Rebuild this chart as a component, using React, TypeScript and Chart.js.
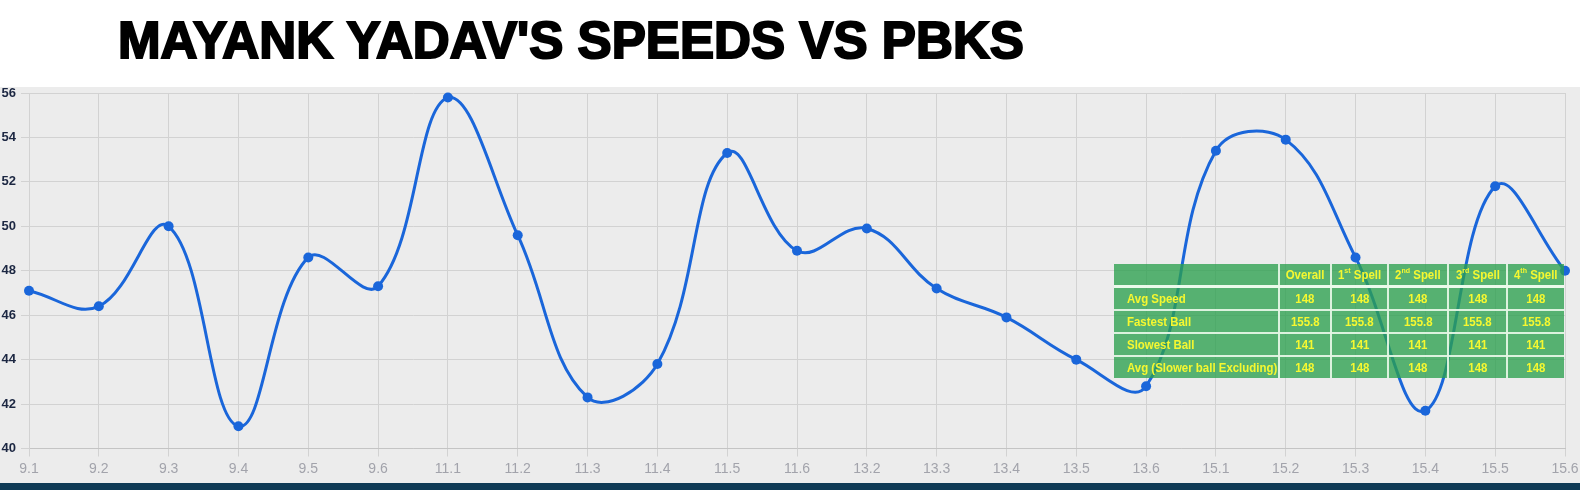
import React, { useEffect, useLayoutEffect, useRef, useState } from "react";
import { Chart, registerables } from "chart.js";

Chart.register(...registerables);

const TITLE = "MAYANK YADAV'S SPEEDS VS PBKS";

const overs = [
  "9.1", "9.2", "9.3", "9.4", "9.5", "9.6",
  "11.1", "11.2", "11.3", "11.4", "11.5", "11.6",
  "13.2", "13.3", "13.4", "13.5", "13.6",
  "15.1", "15.2", "15.3", "15.4", "15.5", "15.6",
];

const speeds = [
  147.1, 146.4, 150.0, 141.0, 148.6, 147.3,
  155.8, 149.6, 142.3, 143.8, 153.3, 148.9,
  149.9, 147.2, 145.9, 144.0, 142.8,
  153.4, 153.9, 148.6, 141.7, 151.8, 148.0,
];

const yMin = 140;
const yMax = 156;
const yStep = 2;

const tableHeaders = [
  { main: "Overall", sup: "", tail: "" },
  { main: "1", sup: "st", tail: " Spell" },
  { main: "2", sup: "nd", tail: " Spell" },
  { main: "3", sup: "rd", tail: " Spell" },
  { main: "4", sup: "th", tail: " Spell" },
];
const rowLabels = ["Avg Speed", "Fastest Ball", "Slowest Ball", "Avg (Slower ball Excluding)"];
const avgSpeedRow = ["148", "148", "148", "148", "148"];
const fastestRow = ["155.8", "155.8", "155.8", "155.8", "155.8"];
const slowestRow = ["141", "141", "141", "141", "141"];
const avgExclRow = ["148", "148", "148", "148", "148"];
const tableRows = [avgSpeedRow, fastestRow, slowestRow, avgExclRow];

const colWidths = [165, 52, 57, 60, 59, 57];

const LINE_BLUE = "#1a66da";

export default function App() {
  const canvasRef = useRef<HTMLCanvasElement | null>(null);
  const titleRef = useRef<HTMLSpanElement | null>(null);
  const [titleScale, setTitleScale] = useState(1);

  useLayoutEffect(() => {
    if (titleRef.current) {
      const w = titleRef.current.getBoundingClientRect().width;
      if (w > 0) setTitleScale(906 / w);
    }
  }, []);

  useEffect(() => {
    if (!canvasRef.current) return;
    const chart = new Chart(canvasRef.current, {
      type: "line",
      data: {
        labels: overs,
        datasets: [
          {
            data: speeds,
            borderColor: LINE_BLUE,
            backgroundColor: LINE_BLUE,
            borderWidth: 3,
            tension: 0.4,
            pointRadius: 5,
            pointHoverRadius: 5,
            pointBackgroundColor: LINE_BLUE,
            pointBorderColor: LINE_BLUE,
            pointBorderWidth: 0,
            fill: false,
            clip: false,
          } as any,
        ],
      },
      options: {
        responsive: false,
        animation: false,
        devicePixelRatio: 1,
        layout: { padding: { top: 6, right: 15, left: 0, bottom: 0 } },
        plugins: {
          legend: { display: false },
          title: { display: false },
          tooltip: { enabled: false },
        },
        scales: {
          x: {
            grid: { color: "#d2d2d2", tickLength: 8, lineWidth: 1 },
            border: { color: "#c4c4c4" },
            ticks: {
              color: "#a2a3ab",
              font: { family: '"Liberation Sans", Arial, sans-serif', size: 14 },
              padding: 4,
              maxRotation: 0,
              autoSkip: false,
            },
            afterFit: (s: any) => {
              s.height = 34.5;
              s.paddingLeft = 0;
              s.paddingRight = 0;
            },
          },
          y: {
            min: yMin,
            max: yMax,
            grid: { color: "#d2d2d2", tickLength: 8, lineWidth: 1 },
            border: { color: "#d2d2d2" },
            ticks: {
              stepSize: yStep,
              color: "#1c2742",
              font: { family: '"Liberation Sans", Arial, sans-serif', size: 13, weight: "bold" },
              padding: 5,
              callback: (v: any) => String(Math.round(Number(v))).slice(-2),
            },
            afterFit: (s: any) => {
              s.width = 29;
              s.paddingTop = 0;
              s.paddingBottom = 0;
            },
          },
        },
      },
    });
    return () => chart.destroy();
  }, []);

  const cellBorder = "2px solid rgba(228,246,228,0.95)";
  const cellBase: React.CSSProperties = {
    border: cellBorder,
    background: "rgba(44,160,78,0.78)",
    color: "#f6f830",
    fontFamily: '"Liberation Sans", Arial, sans-serif',
    fontWeight: "bold",
    fontSize: "13px",
    height: "21px",
    padding: 0,
    textAlign: "center",
    whiteSpace: "nowrap",
    lineHeight: "21px",
    overflow: "visible",
  };
  const squeeze = (origin: string): React.CSSProperties => ({
    display: "inline-block",
    transform: "scaleX(0.88)",
    transformOrigin: origin,
  });

  return (
    <div
      style={{
        position: "absolute",
        left: 0,
        top: 0,
        width: 1586,
        height: 490,
        background: "#ffffff",
        overflow: "hidden",
      }}
    >
      <div
        style={{
          position: "absolute",
          left: 118,
          top: 16,
          height: 50,
          lineHeight: "50px",
          whiteSpace: "nowrap",
          transformOrigin: "0 0",
          transform: `scaleX(${titleScale})`,
        }}
      >
        <span
          ref={titleRef}
          style={{
            fontFamily: '"Liberation Sans", Arial, sans-serif',
            fontWeight: "bold",
            fontSize: "51px",
            color: "#000",
            WebkitTextStroke: "2px #000",
          }}
        >
          {TITLE}
        </span>
      </div>

      <div
        style={{
          position: "absolute",
          left: 0,
          top: 87,
          width: 1580,
          height: 396,
          background: "#ececec",
        }}
      >
        <canvas ref={canvasRef} width={1580} height={396} style={{ display: "block", width: 1580, height: 396 }} />
      </div>

      <div
        style={{
          position: "absolute",
          left: 0,
          top: 483,
          width: 1580,
          height: 7,
          background: "#0f3a55",
        }}
      />

      <table
        style={{
          position: "absolute",
          left: 1114,
          top: 264,
          width: 450,
          borderCollapse: "collapse",
          borderStyle: "hidden",
          tableLayout: "fixed",
        }}
      >
        <colgroup>
          {colWidths.map((w, i) => (
            <col key={i} style={{ width: w }} />
          ))}
        </colgroup>
        <tbody>
          <tr>
            <td style={{ ...cellBase, borderBottom: "3px solid rgba(235,250,235,1)" }}></td>
            {tableHeaders.map((h, i) => (
              <td key={i} style={{ ...cellBase, borderBottom: "3px solid rgba(235,250,235,1)" }}>
                <span style={squeeze("50% 50%")}>
                  {h.main}
                  {h.sup ? (
                    <sup style={{ fontSize: "8px", lineHeight: 0, verticalAlign: "6px" }}>{h.sup}</sup>
                  ) : null}
                  {h.tail}
                </span>
              </td>
            ))}
          </tr>
          {tableRows.map((row, r) => (
            <tr key={r}>
              <td style={{ ...cellBase, textAlign: "left", paddingLeft: 13 }}>
                <span style={squeeze("0 50%")}>{rowLabels[r]}</span>
              </td>
              {row.map((v, c) => (
                <td key={c} style={cellBase}>
                  <span style={squeeze("50% 50%")}>{v}</span>
                </td>
              ))}
            </tr>
          ))}
        </tbody>
      </table>
    </div>
  );
}
